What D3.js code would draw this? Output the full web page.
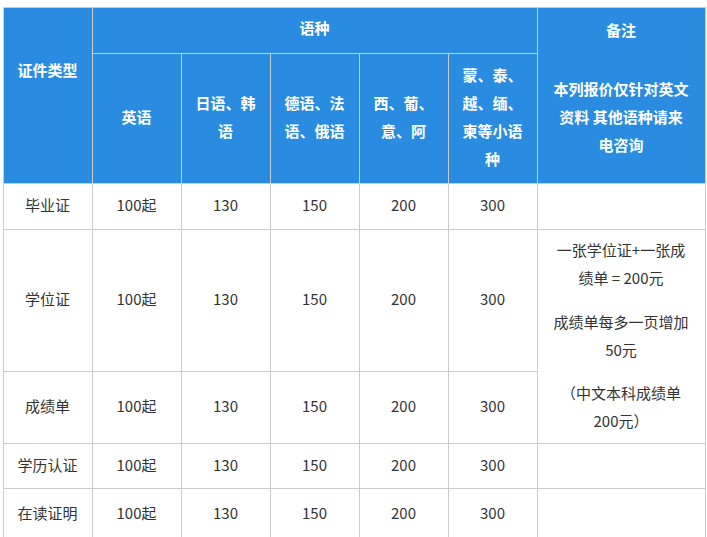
<!DOCTYPE html>
<html><head><meta charset="utf-8">
<script src="https://cdn.jsdelivr.net/npm/d3@7"></script>
<style>body{margin:0;background:#fff}</style></head>
<body><svg width="707" height="537"></svg>
<script>
const docTypes = ["毕业证", "学位证", "成绩单", "学历认证", "在读证明"];
const languages = [["英语"], ["日语、韩", "语"], ["德语、法", "语、俄语"], ["西、葡、", "意、阿"], ["蒙、泰、", "越、缅、", "柬等小语", "种"]];
const prices = ["100起", "130", "150", "200", "300"];
const noteHead = ["本列报价仅针对英文", "资料 其他语种请来", "电咨询"];
const noteLines = [["一张学位证+一张成", "绩单 = 200元"], ["成绩单每多一页增加", "50元"], ["（中文本科成绩单", "200元）"]];

const colX = [3, 92, 181, 270, 359, 448, 537, 705];
const rowY = [7, 53, 183, 229, 371, 443, 488, 540];
const blue = "#2a8ce0", line = "#cccccc", font = "'Noto Sans CJK SC', sans-serif";
const svg = d3.select("svg");

function cell(x0, x1, y0, y1, fill, stroke) {
  svg.append("rect").attr("x", x0 + 0.5).attr("y", y0 + 0.5)
    .attr("width", x1 - x0).attr("height", y1 - y0)
    .attr("fill", fill).attr("stroke", stroke);
}
function text(lines, cx, cy, opts) {
  const lh = opts.lh || 28;
  const t = svg.append("text").attr("text-anchor", "middle").attr("font-family", font)
    .attr("font-size", opts.size || 15).attr("font-weight", opts.bold ? "bold" : "normal")
    .attr("fill", opts.color || "#333");
  lines.forEach((l, i) => t.append("tspan").attr("x", cx)
    .attr("y", cy + (i - (lines.length - 1) / 2) * lh).attr("dy", "0.35em").text(l));
}
const mid = (a, b) => (a + b) / 2;

// header
cell(colX[0], colX[1], rowY[0], rowY[2], blue, line);
text(["证件类型"], mid(colX[0], colX[1]), mid(rowY[0], rowY[2]) - 24, { bold: true, color: "#fff" });
cell(colX[1], colX[6], rowY[0], rowY[1], blue, line);
text(["语种"], mid(colX[1], colX[6]), mid(rowY[0], rowY[1]) - 1, { bold: true, color: "#fff" });
languages.forEach((l, i) => {
  cell(colX[i + 1], colX[i + 2], rowY[1], rowY[2], blue, line);
  text(l, mid(colX[i + 1], colX[i + 2]), mid(rowY[1], rowY[2]), { bold: true, color: "#fff" });
});
cell(colX[6], colX[7], rowY[0], rowY[2], blue, line);
text(["备注"], mid(colX[6], colX[7]), 31, { bold: true, color: "#fff" });
text(noteHead, mid(colX[6], colX[7]), 118, { bold: true, color: "#fff" });

// body
docTypes.forEach((d, r) => {
  const y0 = rowY[r + 2], y1 = rowY[r + 3];
  cell(colX[0], colX[1], y0, y1, "#fff", line);
  text([d], mid(colX[0], colX[1]), mid(y0, y1), {});
  prices.forEach((p, i) => {
    cell(colX[i + 1], colX[i + 2], y0, y1, "#fff", line);
    text([p], mid(colX[i + 1], colX[i + 2]), mid(y0, y1), {});
  });
});
cell(colX[6], colX[7], rowY[2], rowY[3], "#fff", line);
cell(colX[6], colX[7], rowY[3], rowY[5], "#fff", line);
cell(colX[6], colX[7], rowY[5], rowY[6], "#fff", line);
cell(colX[6], colX[7], rowY[6], rowY[7], "#fff", line);
const noteCy = [265, 337, 408];
noteLines.forEach((l, i) => text(l, mid(colX[6], colX[7]), noteCy[i], {}));
</script></body></html>
